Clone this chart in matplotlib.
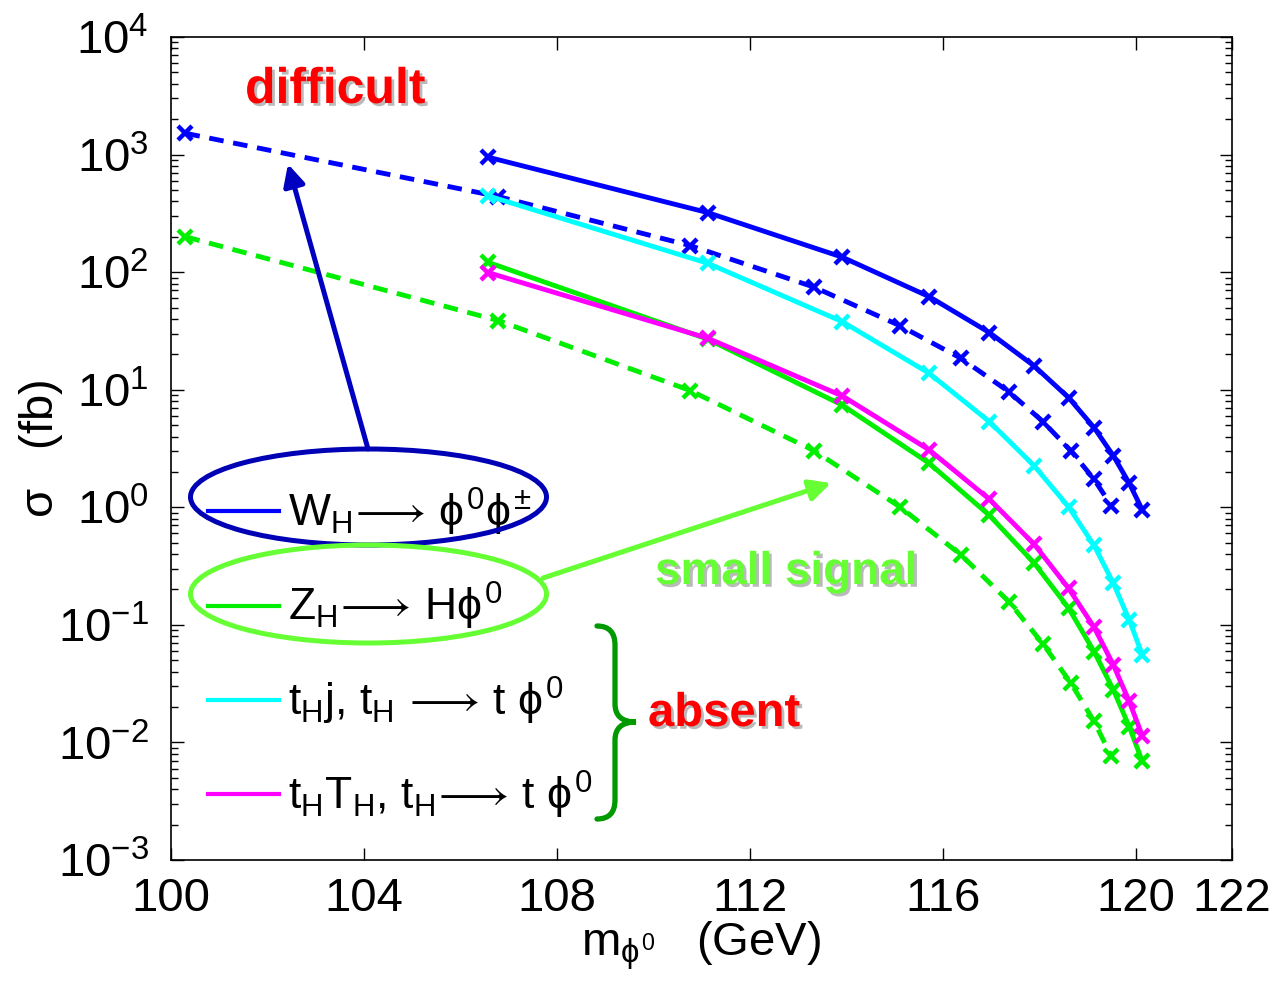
import numpy as np
import matplotlib
matplotlib.use('Agg')
import matplotlib.pyplot as plt
import matplotlib.patheffects as pe
from matplotlib.patches import Ellipse, PathPatch
from matplotlib.path import Path
from matplotlib.lines import Line2D

plt.rcParams['font.family'] = ['Liberation Sans', 'DejaVu Sans']
plt.rcParams['mathtext.fontset'] = 'custom'
plt.rcParams['mathtext.rm'] = 'Liberation Sans'
plt.rcParams['mathtext.it'] = 'Liberation Sans'

# data (GeV, fb)
m_solid = [106.58, 111.13, 113.92, 115.72, 116.97, 117.90, 118.61, 119.14, 119.54, 119.87, 120.14]
m_dash = [100.30, 106.79, 110.77, 113.34, 115.11, 116.38, 117.37, 118.08, 118.66, 119.14, 119.50]
wh_solid = [949, 321, 134, 61.9, 30.6, 15.9, 8.57, 4.76, 2.74, 1.60, 0.95]
wh_dash = [1517, 439, 168, 74.4, 35.1, 18.5, 9.63, 5.35, 3.02, 1.73, 1.03]
th_j = [445, 119, 37.9, 13.8, 5.35, 2.25, 1.01, 0.474, 0.226, 0.110, 0.0556]
zh_solid = [121, 26.9, 7.4, 2.37, 0.853, 0.335, 0.139, 0.0593, 0.0280, 0.0136, 0.0069]
zh_dash = [200, 38.7, 9.82, 3.02, 1.01, 0.394, 0.158, 0.0689, 0.0319, 0.0151, 0.0076]
th_TH = [99, 27.4, 8.85, 3.08, 1.17, 0.484, 0.205, 0.0955, 0.0457, 0.0223, 0.0114]

xticks = [100, 104, 108, 112, 116, 120, 122]

W, H = 1276, 982
def fxy(px, py):  # picture pixel -> figure fraction
    return px / W, 1 - py / H

fig = plt.figure(figsize=(12.76, 9.82), dpi=100)
ax = fig.add_axes([171/W, 1-860/H, (1232-171)/W, (860-37)/H])

lw = 3.5
mk = dict(marker='x', ms=10, mew=3.2)
dash = (0, (3, 2))
ax.plot(m_dash, wh_dash, color='#0000ff', lw=lw, ls=dash, **mk)
ax.plot(m_dash, zh_dash, color='#00ee00', lw=lw, ls=dash, **mk)
ax.plot(m_solid, wh_solid, color='#0000ff', lw=lw, **mk)
ax.plot(m_solid, th_j, color='#00ffff', lw=lw, **mk)
ax.plot(m_solid, zh_solid, color='#00ee00', lw=lw, **mk)
ax.plot(m_solid, th_TH, color='#ff00ff', lw=lw, **mk)

ax.set_yscale('log')
ax.set_xlim(100, 122)
ax.set_ylim(1e-3, 1e4)
ax.set_xticks(xticks)
ax.set_xticklabels([str(t) for t in xticks])
ax.tick_params(which='both', direction='in', top=True, right=True, labelsize=34)
ax.tick_params(which='major', length=9, width=1)
ax.tick_params(which='minor', length=5, width=1)
ax.tick_params(axis='x', pad=12)
ax.tick_params(axis='y', pad=16)
for s in ax.spines.values():
    s.set_linewidth(1.2)

ax.set_ylabel(r'$\sigma$   (fb)', fontsize=34)
ax.set_xlabel(r'm$_{\phi^{\rm 0}}$   (GeV)', fontsize=34)
ax.yaxis.set_label_coords(-0.1, 0.5)
ax.xaxis.set_label_coords(0.5, -0.072)

arr = r'\!\longrightarrow\!'
handles = [Line2D([], [], color=c, lw=3) for c in ['#0000ff', '#00ee00', '#00ffff', '#ff00ff']]
labels = [r'W$_{\rm H}' + arr + r'$ $\phi^{\rm 0}\phi^{\pm}$',
          r'Z$_{\rm H}' + arr + r'$ H$\phi^{\rm 0}$',
          r't$_{\rm H}$j, t$_{\rm H}$ $' + arr + r'$ t $\phi^{\rm 0}$',
          r't$_{\rm H}$T$_{\rm H}$, t$_{\rm H}' + arr + r'$ t $\phi^{\rm 0}$']
ax.legend(handles, labels, loc='upper left', bbox_to_anchor=fxy(208, 486),
          bbox_transform=fig.transFigure, frameon=False, fontsize=32,
          borderpad=0, borderaxespad=0, handlelength=1.6, handletextpad=0.2,
          labelspacing=0.95)

shadow = [pe.withSimplePatchShadow(offset=(2, -2), shadow_rgbFace='0.55', alpha=0.6)]
fig.text(*fxy(245, 90), 'difficult', color='red', fontsize=36, fontweight='bold',
         va='center', path_effects=shadow)
fig.text(*fxy(655, 572), 'small signal', color='#66ff33', fontsize=33, fontweight='bold',
         va='center', path_effects=shadow)
fig.text(*fxy(648, 714), 'absent', color='red', fontsize=34, fontweight='bold',
         va='center', path_effects=shadow)

# ellipses round the first two legend entries
fig.add_artist(Ellipse(fxy(368.5, 497), 356/W, 96/H, transform=fig.transFigure,
                       fill=False, ec='#0000b4', lw=3.6, zorder=5))
fig.add_artist(Ellipse(fxy(368.5, 594), 356/W, 98/H, transform=fig.transFigure,
                       fill=False, ec='#66ff33', lw=3.6, zorder=5))

# arrows
ax.annotate('', xy=fxy(288, 164), xycoords='figure fraction',
            xytext=fxy(368, 449), textcoords='figure fraction',
            arrowprops=dict(arrowstyle='-|>', lw=3.6, color='#0000c0',
                            mutation_scale=32, shrinkA=0, shrinkB=0))
ax.annotate('', xy=fxy(831, 483), xycoords='figure fraction',
            xytext=fxy(543, 578), textcoords='figure fraction',
            arrowprops=dict(arrowstyle='-|>', lw=3.6, color='#66ff33',
                            mutation_scale=32, shrinkA=0, shrinkB=0))

# curly brace
bp = [(597, 626), (615, 626), (615, 645), (615, 704), (615, 722), (636, 722),
      (615, 722), (615, 740), (615, 800), (615, 819), (597, 819)]
codes = [Path.MOVETO, Path.CURVE3, Path.CURVE3, Path.LINETO, Path.CURVE3, Path.CURVE3,
         Path.CURVE3, Path.CURVE3, Path.LINETO, Path.CURVE3, Path.CURVE3]
brace = Path([fxy(*p) for p in bp], codes)
fig.add_artist(PathPatch(brace, transform=fig.transFigure, fill=False,
                         ec='#009900', lw=3.8, capstyle='round', zorder=5))

fig.savefig('out.png', dpi=100)
